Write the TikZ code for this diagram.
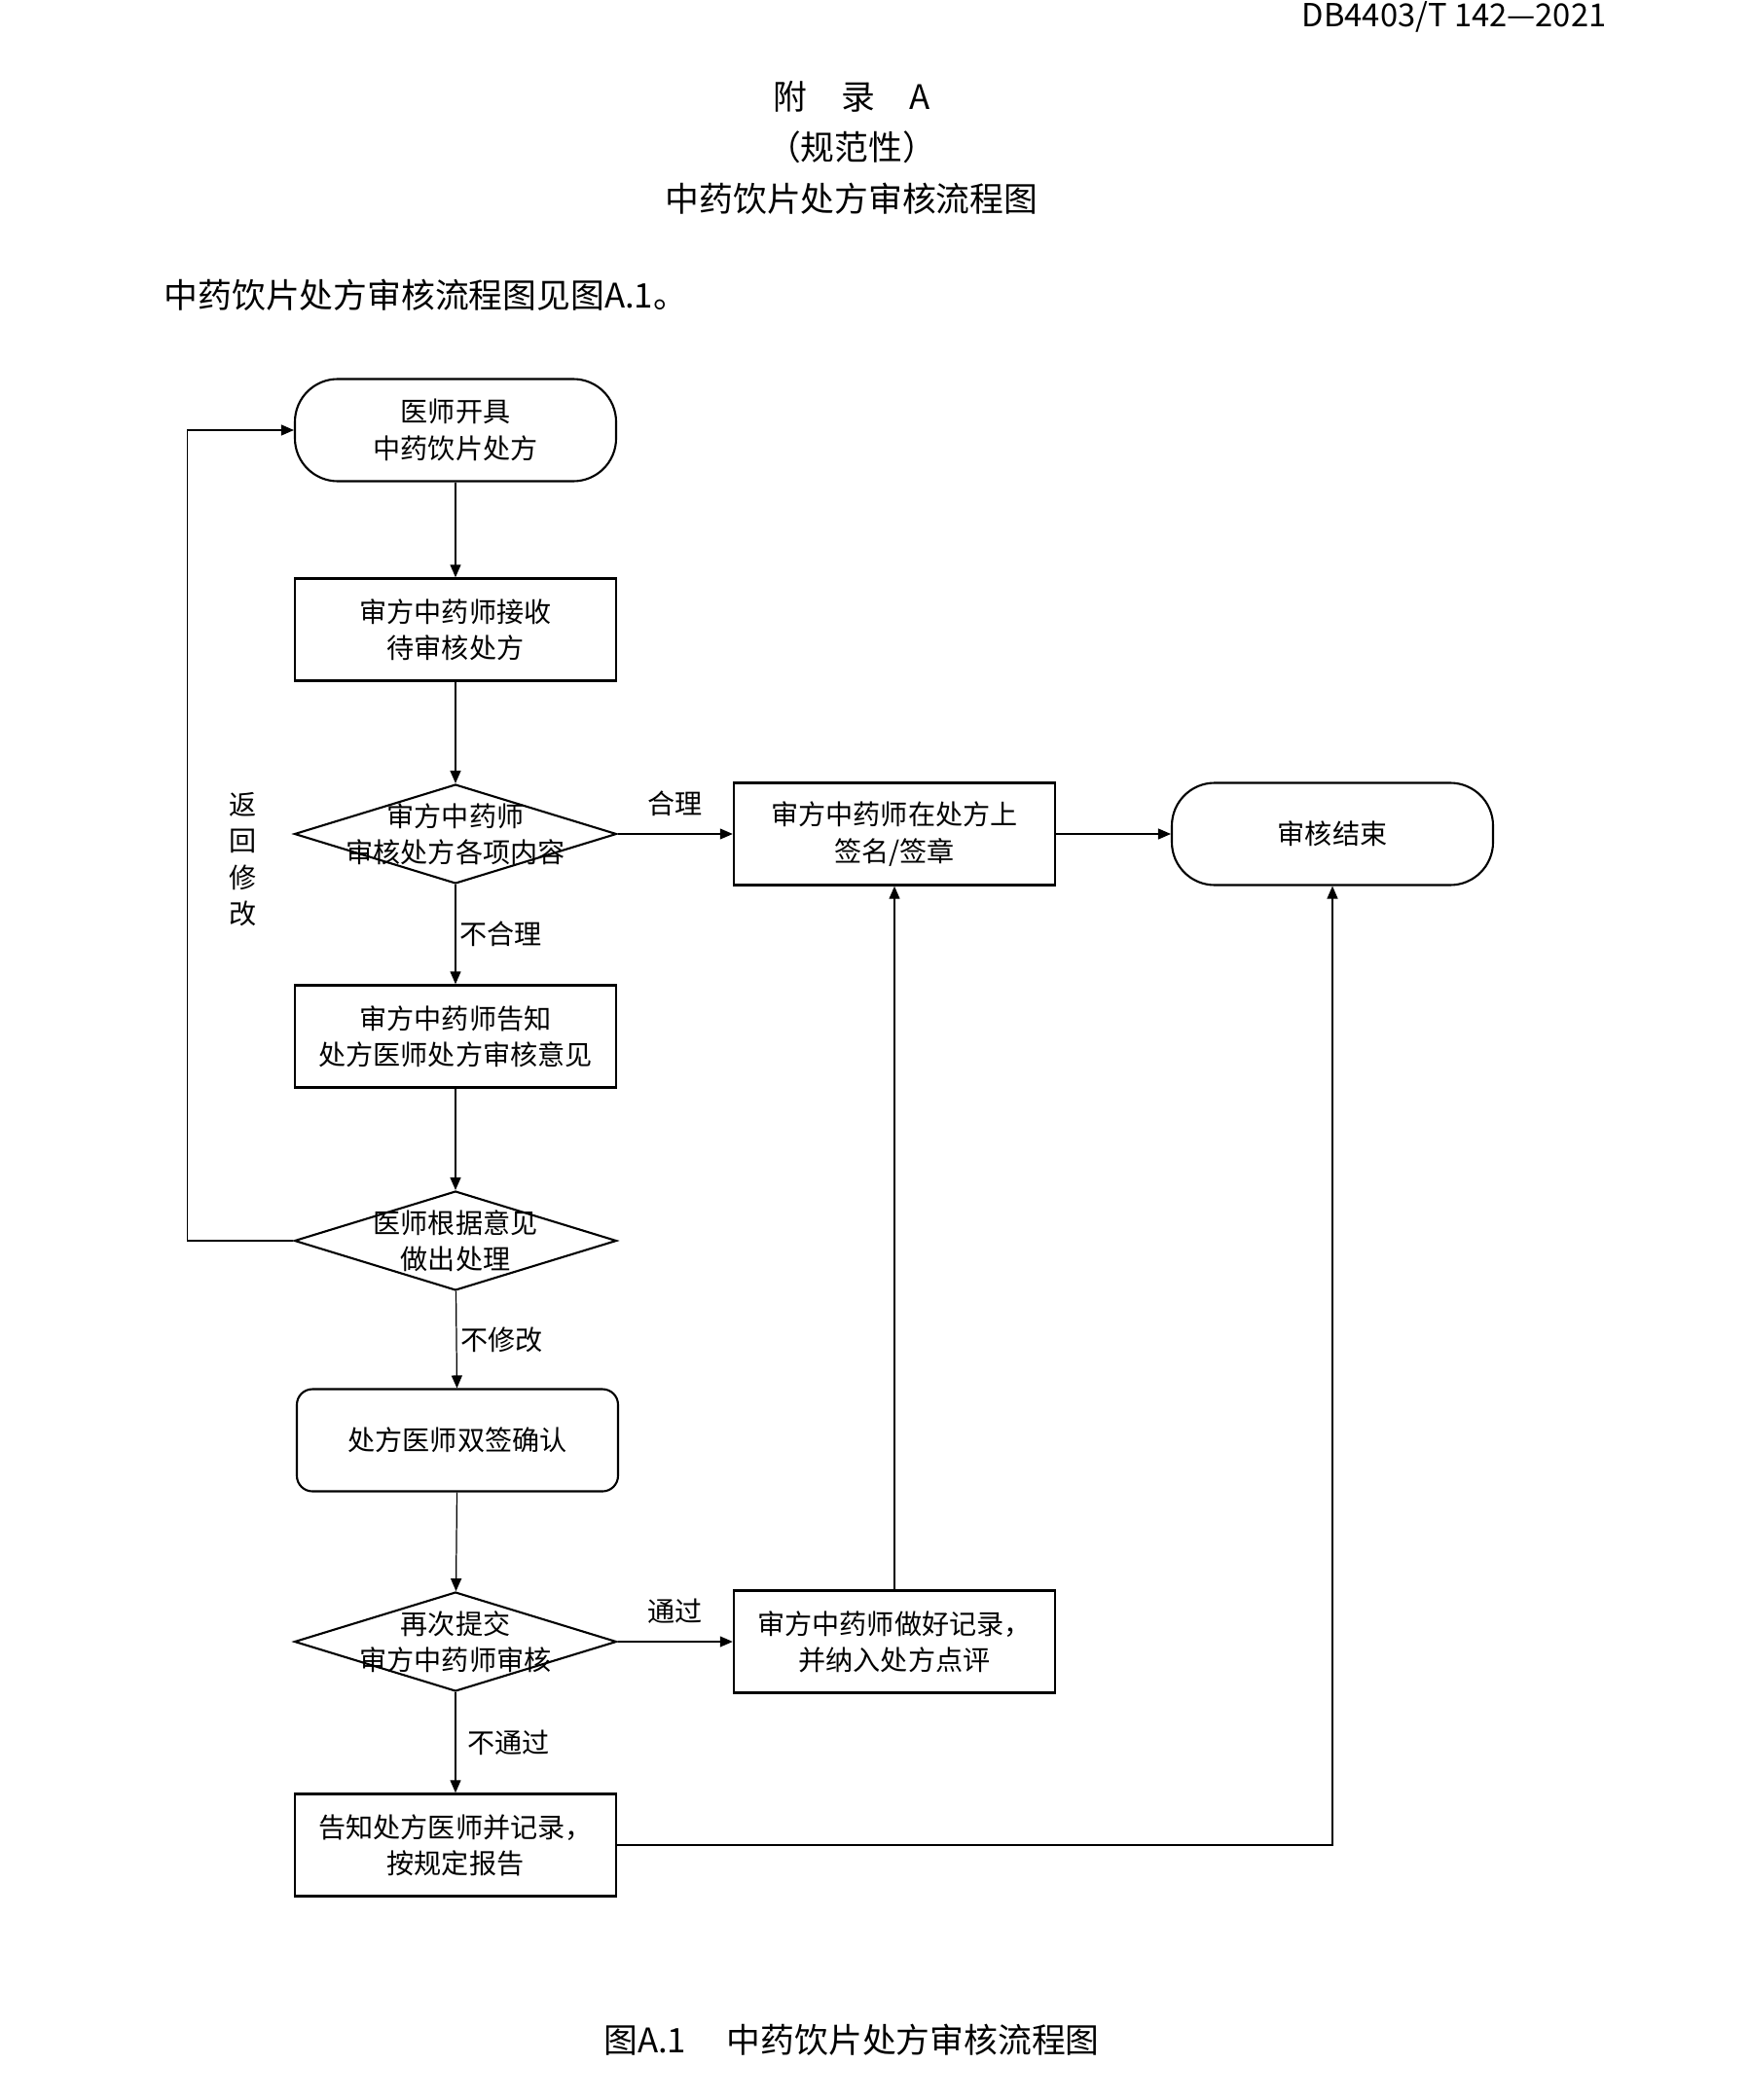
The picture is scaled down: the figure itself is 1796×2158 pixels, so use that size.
\documentclass[tikz,border=0pt]{standalone}
\usepackage{fontspec}
\setmainfont{Noto Sans CJK SC}
\usetikzlibrary{shapes.geometric,arrows.meta}
\newcommand{\headfont}{\fontsize{9.9pt}{12pt}\selectfont}
\newcommand{\boxfont}{\fontsize{8pt}{10.6pt}\selectfont}
\begin{document}
\begin{tikzpicture}
[x=0.1mm, y=-0.1mm,
 box/.style={draw, line width=0.7pt, minimum width=33mm, minimum height=10.5mm, align=center, font=\boxfont},
 term/.style={box, rounded corners=4.4mm, line width=0.6pt},
 softbox/.style={box, rounded corners=1.6mm, line width=0.6pt},
 dec/.style={draw, diamond, line width=0.6pt, minimum width=33.1mm, minimum height=10.2mm, inner sep=0pt},
 dtext/.style={align=center, font=\boxfont},
 note/.style={font=\boxfont, inner sep=0.4mm},
 link/.style={-{Triangle[length=1.3mm,width=1.1mm]}, line width=0.35pt}]
\useasboundingbox (0,0) rectangle (1796,2158);
\node[anchor=base east, inner sep=0pt, font=\fontsize{9.3pt}{11pt}\selectfont] (std) at (1651,28) {DB4403/T 142—2021};
\node[font=\headfont] (app) at (875,99) {附　录　A};
\node[font=\headfont] (kind) at (875,151) {（规范性）};
\node[font=\headfont] (ttl) at (875,204) {中药饮片处方审核流程图};
\node[anchor=west, inner sep=0pt, font=\headfont] (intro) at (168,303) {中药饮片处方审核流程图见图A.1。};
\node[term] (start) at (468,442) {医师开具\\中药饮片处方};
\node[box] (recv) at (468,647) {审方中药师接收\\待审核处方};
\node[dec] (chk) at (468,857) {};
\node[dtext] (chkt) at (chk) {审方中药师\\审核处方各项内容};
\node[box] (sign) at (919,857) {审方中药师在处方上\\签名/签章};
\node[term] (end) at (1369,857) {审核结束};
\node[box] (inform) at (468,1065) {审方中药师告知\\处方医师处方审核意见};
\node[dec] (rev) at (468,1275) {};
\node[dtext] (revt) at (rev) {医师根据意见\\做出处理};
\node[softbox] (dbl) at (470,1480) {处方医师双签确认};
\node[dec] (re) at (468,1687) {};
\node[dtext] (ret) at (re) {再次提交\\审方中药师审核};
\node[box] (rec) at (919,1687) {审方中药师做好记录，\\并纳入处方点评};
\node[box] (rep) at (468,1896) {告知处方医师并记录，\\按规定报告};
\node[dtext] (back) at (250,883) {返\\回\\修\\改};
\node[font=\headfont] (cap) at (875,2096) {图A.1\hspace{1.2em}中药饮片处方审核流程图};
\draw[link] (start) -- (recv);
\draw[link] (recv) -- (chk);
\draw[link] (chk) -- node[note, midway, above=1.4mm] {合理} (sign);
\draw[link] (sign) -- (end);
\draw[link] (chk) -- node[note, midway, right] {不合理} (inform);
\draw[link] (inform) -- (rev);
\draw[link] (rev.west) -- ++(-109,0) |- (start.west);
\draw[link] (rev) -- node[note, midway, right] {不修改} (dbl);
\draw[link] (dbl) -- (re);
\draw[link] (re) -- node[note, midway, above=1.4mm] {通过} (rec);
\draw[link] (re) -- node[note, midway, right=0.8mm] {不通过} (rep);
\draw[link] (rec) -- (sign);
\draw[link] (rep.east) -| (end.south);
\end{tikzpicture}
\end{document}
